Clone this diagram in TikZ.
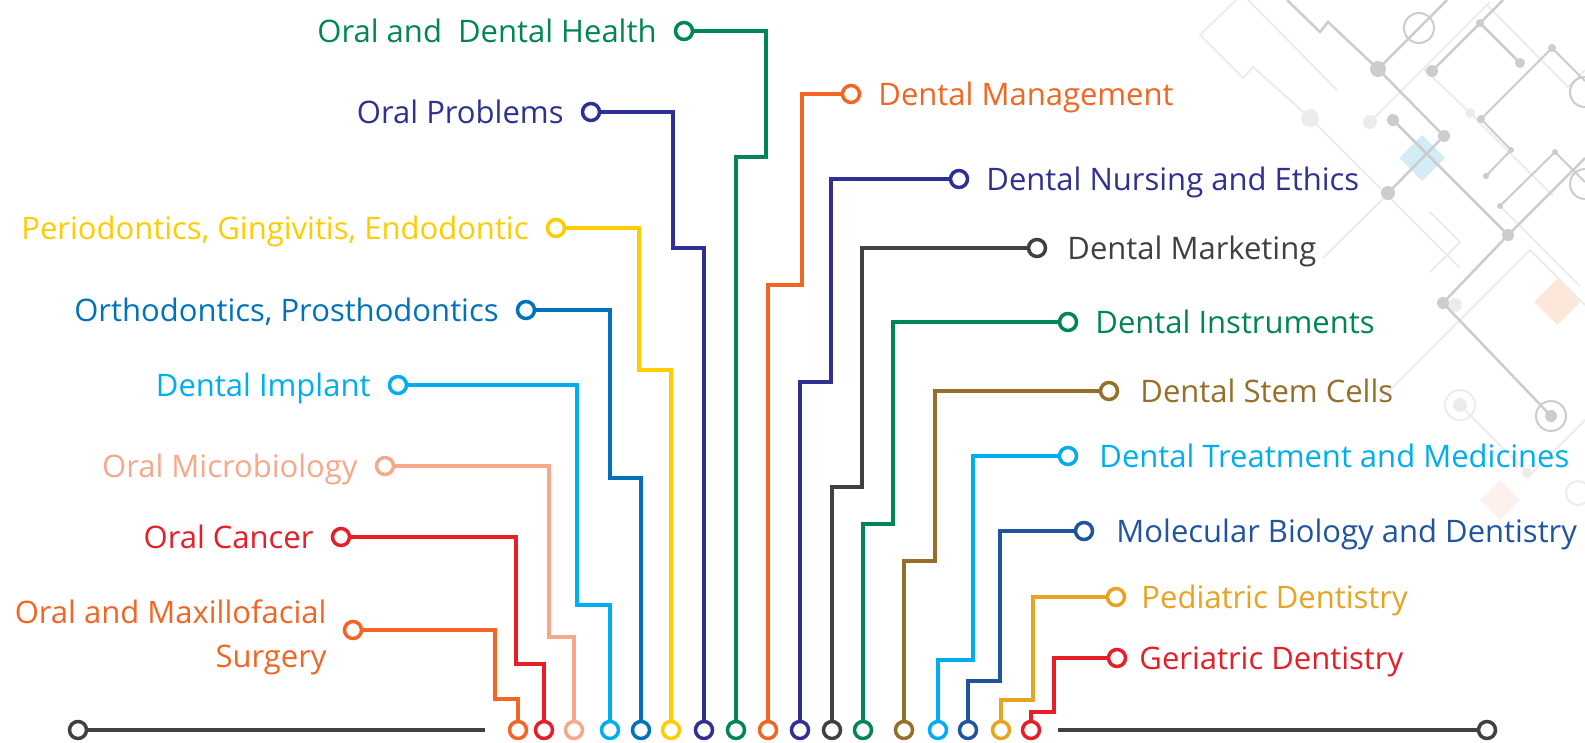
\documentclass[tikz,border=0pt]{standalone}
\usepackage{fontspec}
\setmainfont{Open Sans}
\usepackage{xcolor}
\usetikzlibrary{positioning}
\definecolor{dentgreen}{RGB}{0,133,84}
\definecolor{dentnavy}{RGB}{46,49,146}
\definecolor{dentyellow}{RGB}{255,204,0}
\definecolor{dentblue}{RGB}{0,114,188}
\definecolor{dentcyan}{RGB}{0,174,239}
\definecolor{dentsalmon}{RGB}{247,168,138}
\definecolor{dentred}{RGB}{230,30,40}
\definecolor{dentorange}{RGB}{242,101,34}
\definecolor{dentgray}{RGB}{64,64,64}
\definecolor{dentbrown}{RGB}{150,111,40}
\definecolor{molblue}{RGB}{30,84,160}
\definecolor{dentamber}{RGB}{233,163,35}
\definecolor{circuitgray}{RGB}{204,204,204}
\definecolor{circuitlight}{RGB}{236,236,236}
\definecolor{diamondblue}{RGB}{212,236,245}
\definecolor{diamondpeach}{RGB}{252,231,216}
\definecolor{diamondpink}{RGB}{253,241,237}

\tikzset{
  pad/.style={circle, draw, line width=3.5pt, fill=white, minimum size=17pt, inner sep=0pt},
  wire/.style={line width=3.6pt},
  topic/.style={font=\fontsize{31}{44}\selectfont, inner sep=0pt},
  lefttopic/.style={topic, anchor=mid east, yshift=-9pt},
  righttopic/.style={topic, anchor=mid west, yshift=-9pt},
  trace/.style={circuitgray, line width=2.5pt},
  faint/.style={circuitlight, line width=2pt}
}

\begin{document}
\begin{tikzpicture}[x=1pt,y=-1pt]
    \useasboundingbox (0,0) rectangle (1585,742);

    % Circuit background
    \fill[diamondblue] (1422,135) -- (1445,158) -- (1422,181) -- (1399,158) -- cycle;
    \fill[diamondpeach] (1557,279) -- (1580,302) -- (1557,325) -- (1534,302) -- cycle;
    \fill[diamondpink] (1500,480) -- (1520,500) -- (1500,520) -- (1480,500) -- cycle;
    \draw[faint] (1236,0) -- (1200,35) -- (1243,78) -- (1253,67) -- (1310,118) -- (1460,268);
    \draw[faint] (1248,0) -- (1337,90);
    \draw[faint] (1370,122) -- (1490,2);
    \draw[faint] (1487,5) -- (1568,87) -- (1585,70);
    \draw[faint] (1423,68) -- (1470,113) -- (1553,196);
    \draw[faint] (1389,193) -- (1323,258);
    \draw[faint] (1430,212) -- (1460,242) -- (1430,272);
    \draw[faint] (1500,206) -- (1580,286);
    \draw[faint] (1440,340) -- (1530,250) -- (1585,305);
    \draw[faint] (1380,400) -- (1500,280);
    \draw[faint] (1460,405) -- (1530,475) -- (1585,420);
    \fill[circuitlight] (1310,118) circle (9) (1370,122) circle (7) (1470,113) circle (5)
        (1455,305) circle (7) (1527,473) circle (5) (1460,405) circle (7);
    \draw[faint] (1460,405) circle (15);
    \draw[faint] (1578,493) circle (12);
    \draw[trace] (1287,0) -- (1320,32) -- (1328,22) -- (1378,69) -- (1444,136);
    \draw[trace] (1378,69) -- (1447,0);
    \draw[trace] (1432,71) -- (1480,23) -- (1503,0);
    \draw[trace] (1480,23) -- (1520,63);
    \draw[trace] (1393,120) -- (1508,235) -- (1443,303) -- (1551,416);
    \draw[trace] (1508,235) -- (1585,158);
    \draw[trace] (1444,136) -- (1388,193);
    \draw[trace, line width=2pt] (1486,176) -- (1511,150) -- (1481,119) -- (1552,48) -- (1585,81);
    \draw[trace, line width=2pt] (1500,206) -- (1555,152) -- (1585,182);
    \fill[circuitgray] (1378,69) circle (8) (1432,71) circle (6) (1480,23) circle (4)
        (1520,63) circle (5) (1444,136) circle (6) (1393,120) circle (6)
        (1388,193) circle (7) (1508,235) circle (6) (1481,119) circle (4)
        (1552,48) circle (4) (1511,150) circle (3) (1486,176) circle (3)
        (1555,152) circle (3) (1500,206) circle (3) (1443,303) circle (6)
        (1551,416) circle (6);
    \draw[trace, line width=2pt] (1419,28) circle (15) (1585,92) circle (15)
        (1585,184) circle (15) (1551,416) circle (15);

    % Bottom pads
    \foreach \x/\c [count=\i] in {518/dentorange, 544/dentred, 574/dentsalmon, 610/dentcyan,
        641/dentblue, 671/dentyellow, 704/dentnavy, 736/dentgreen, 768/dentorange,
        800/dentnavy, 832/dentgray, 863/dentgreen, 904/dentbrown, 938/dentcyan,
        968/molblue, 1001/dentamber, 1031/dentred}
        \node[pad, draw=\c] (b\i) at (\x,730) {};

    % Baseline
    \node[pad, draw=dentgray] (lend) at (78,730) {};
    \coordinate (lstop) at (485,730);
    \draw[wire, dentgray] (lend) -- (lstop);
    \coordinate (rstart) at (1058,730);
    \node[pad, draw=dentgray] (rend) at (1487,730) {};
    \draw[wire, dentgray] (rstart) -- (rend);

    % Left topics
    \node[pad, draw=dentgreen] (odh) at (684,31) {};
    \node[left=17pt of odh, lefttopic, dentgreen] {Oral and~~Dental Health};
    \node[pad, draw=dentnavy] (op) at (591,112) {};
    \node[left=17pt of op, lefttopic, dentnavy] {Oral Problems};
    \node[pad, draw=dentyellow] (pge) at (556,228) {};
    \node[left=17pt of pge, lefttopic, dentyellow] {Periodontics, Gingivitis, Endodontic};
    \node[pad, draw=dentblue] (opd) at (526,310) {};
    \node[left=17pt of opd, lefttopic, dentblue] {Orthodontics, Prosthodontics};
    \node[pad, draw=dentcyan] (di) at (398,385) {};
    \node[left=17pt of di, lefttopic, dentcyan] {Dental Implant};
    \node[pad, draw=dentsalmon] (om) at (385,466) {};
    \node[left=17pt of om, lefttopic, dentsalmon] {Oral Microbiology};
    \node[pad, draw=dentred] (oc) at (341,537) {};
    \node[left=17pt of oc, lefttopic, dentred] {Oral Cancer};
    \node[pad, draw=dentorange] (oms) at (353,630) {};
    \node[topic, dentorange, align=right, left=16pt of oms, yshift=-7pt] {Oral and Maxillofacial\\Surgery};

    % Right topics
    \node[pad, draw=dentorange] (dm) at (851,94) {};
    \node[right=17pt of dm, righttopic, dentorange] {Dental Management};
    \node[pad, draw=dentnavy] (dne) at (959,179) {};
    \node[right=17pt of dne, righttopic, dentnavy] {Dental Nursing and Ethics};
    \node[pad, draw=dentgray] (dmk) at (1037,248) {};
    \node[right=20pt of dmk, righttopic, dentgray] {Dental Marketing};
    \node[pad, draw=dentgreen] (dis) at (1068,322) {};
    \node[right=17pt of dis, righttopic, dentgreen] {Dental Instruments};
    \node[pad, draw=dentbrown] (dsc) at (1109,391) {};
    \node[right=21pt of dsc, righttopic, dentbrown] {Dental Stem Cells};
    \node[pad, draw=dentcyan] (dtm) at (1068,456) {};
    \node[right=21pt of dtm, righttopic, dentcyan] {Dental Treatment and Medicines};
    \node[pad, draw=molblue] (mbd) at (1084,531) {};
    \node[right=22pt of mbd, righttopic, molblue] {Molecular Biology and Dentistry};
    \node[pad, draw=dentamber] (pd) at (1116,597) {};
    \node[right=15pt of pd, righttopic, dentamber] {Pediatric Dentistry};
    \node[pad, draw=dentred] (gd) at (1117,658) {};
    \node[right=12pt of gd, righttopic, dentred] {Geriatric Dentistry};

    % Wires, left side
    \draw[wire, dentorange] (oms) -| (495,699) -| (b1);
    \draw[wire, dentred] (oc) -| (516,664) -| (b2);
    \draw[wire, dentsalmon] (om) -| (549,637) -| (b3);
    \draw[wire, dentcyan] (di) -| (577,605) -| (b4);
    \draw[wire, dentblue] (opd) -| (610,478) -| (b5);
    \draw[wire, dentyellow] (pge) -| (639,370) -| (b6);
    \draw[wire, dentnavy] (op) -| (673,248) -| (b7);
    \draw[wire, dentgreen] (odh) -| (766,157) -| (b8);

    % Wires, right side
    \draw[wire, dentorange] (dm) -| (802,285) -| (b9);
    \draw[wire, dentnavy] (dne) -| (831,382) -| (b10);
    \draw[wire, dentgray] (dmk) -| (862,487) -| (b11);
    \draw[wire, dentgreen] (dis) -| (893,524) -| (b12);
    \draw[wire, dentbrown] (dsc) -| (935,561) -| (b13);
    \draw[wire, dentcyan] (dtm) -| (973,660) -| (b14);
    \draw[wire, molblue] (mbd) -| (1000,681) -| (b15);
    \draw[wire, dentamber] (pd) -| (1033,700) -| (b16);
    \draw[wire, dentred] (gd) -| (1054,712) -| (b17);
\end{tikzpicture}
\end{document}
